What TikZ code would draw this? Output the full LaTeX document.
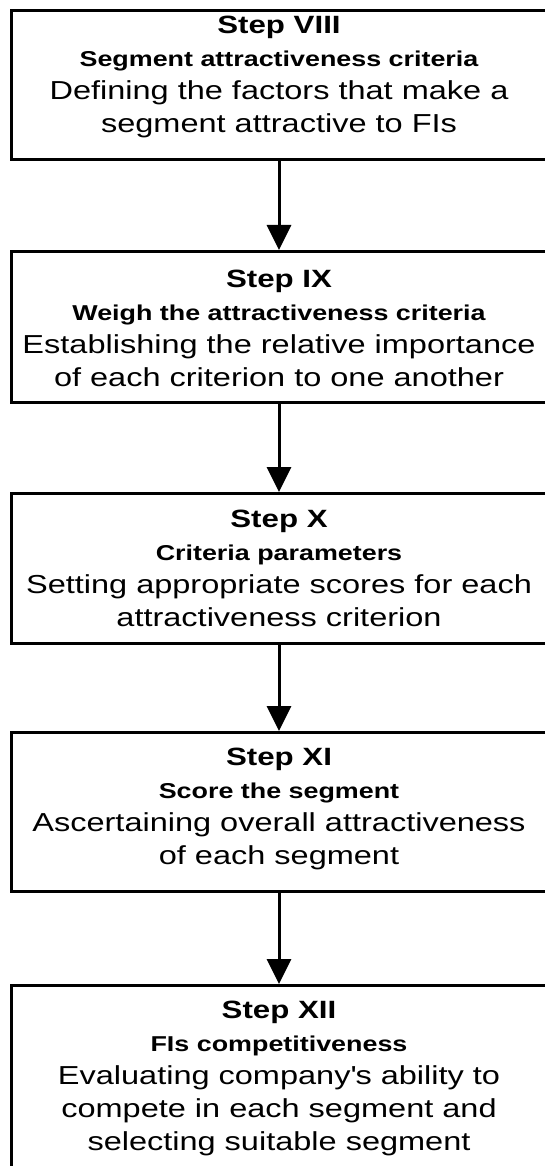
\documentclass[tikz,border=0pt]{standalone}
\usepackage{fontspec}
\setmainfont{Liberation Sans}[FakeStretch=1.25]
\usetikzlibrary{arrows.meta}

% type sizes for the three kinds of line in each step box
\newcommand\stephead{\fontsize{25pt}{31pt}\selectfont\bfseries}
\newcommand\stepsub{\fontsize{21.5pt}{33pt}\selectfont\bfseries}
\newcommand\stepbody{\fontsize{26pt}{33pt}\selectfont\mdseries}

\tikzset{
  stepbox/.style={draw, line width=3pt, rectangle, anchor=north,
    minimum width=536pt, inner sep=0pt},
  steptext/.style={inner sep=0pt, align=center,
    font=\fontsize{26pt}{33pt}\selectfont},
  flow/.style={line width=3pt, -{Triangle[width=24pt,length=25pt]}},
}

\begin{document}
\begin{tikzpicture}[x=1pt,y=1pt]
  \useasboundingbox (0,0) rectangle (545,-1166);
  \clip (0,0) rectangle (545,-1166);

  % frames
  \node[stepbox, minimum height=149pt] (s8)  at (279,-9)   {};
  \node[stepbox, minimum height=151pt] (s9)  at (279,-250) {};
  \node[stepbox, minimum height=150pt] (s10) at (279,-492) {};
  \node[stepbox, minimum height=159pt] (s11) at (279,-731) {};
  \node[stepbox, minimum height=220pt] (s12) at (279,-984) {};

  % captions
  \node[steptext] (t8) at (279,-77)
    {\stephead Step VIII\\
     \stepsub Segment attractiveness criteria\\
     \stepbody Defining the factors that make a\\
     \stepbody segment attractive to FIs};

  \node[steptext] (t9) at (279,-328)
    {\stephead Step IX\\
     \stepsub Weigh the attractiveness criteria\\
     \stepbody Establishing the relative importance\\
     \stepbody of each criterion to one another};

  \node[steptext] (t10) at (279,-568)
    {\stephead Step X\\
     \stepsub Criteria parameters\\
     \stepbody Setting appropriate scores for each\\
     \stepbody attractiveness criterion};

  \node[steptext] (t11) at (279,-809)
    {\stephead Step XI\\
     \stepsub Score the segment\\
     \stepbody Ascertaining overall attractiveness\\
     \stepbody of each segment};

  \node[steptext] (t12) at (279,-1078)
    {\stephead Step XII\\
     \stepsub FIs competitiveness\\
     \stepbody Evaluating company\textquotesingle s ability to\\
     \stepbody compete in each segment and\\
     \stepbody selecting suitable segment};

  \draw[flow] (s8.south) -- (s9.north);
  \draw[flow] (s9.south) -- (s10.north);
  \draw[flow] (s10.south) -- (s11.north);
  \draw[flow] (s11.south) -- (s12.north);
\end{tikzpicture}
\end{document}
